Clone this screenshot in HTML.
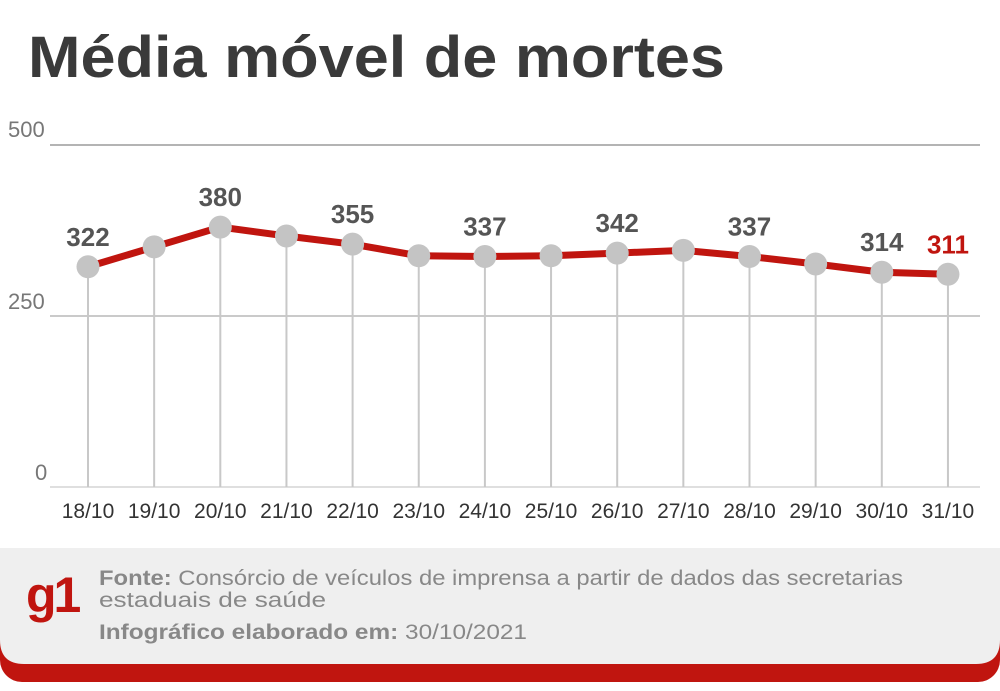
<!DOCTYPE html>
<html><head><meta charset="utf-8"><style>
body{margin:0;width:1000px;height:691px;background:#fff;overflow:hidden;font-family:"Liberation Sans",sans-serif}
</style></head><body>
<svg width="1000" height="691" xmlns="http://www.w3.org/2000/svg" style="position:absolute;left:0;top:0">
<text x="28" y="77" font-size="58" font-weight="bold" fill="#3a3a3a" font-family="Liberation Sans,sans-serif" textLength="697" lengthAdjust="spacingAndGlyphs">Média móvel de mortes</text>
<g font-family="Liberation Sans,sans-serif" font-size="22" fill="#777">
<text x="8" y="137">500</text><text x="8" y="309">250</text><text x="35" y="480">0</text>
</g>
<line x1="50" y1="145" x2="980" y2="145" stroke="#888" stroke-width="1.3"/>
<line x1="50" y1="316" x2="980" y2="316" stroke="#aaa" stroke-width="1.3"/>
<line x1="50" y1="487" x2="980" y2="487" stroke="#ccc" stroke-width="1.3"/>
<g id="c"></g>
<rect x="0" y="548" width="1000" height="134" rx="22" fill="#c0150f"/>
<path d="M0 548 H1000 V640 Q1000 664 976 664 H24 Q0 664 0 640 Z" fill="#efefef"/>
<text x="26" y="612" font-size="50" font-weight="bold" fill="#c0150f" font-family="Liberation Sans,sans-serif" letter-spacing="-3">g1</text>
<g font-family="Liberation Sans,sans-serif" font-size="21" fill="#888">
<text x="99" y="585" textLength="804" lengthAdjust="spacingAndGlyphs"><tspan font-weight="bold">Fonte:</tspan> Consórcio de veículos de imprensa a partir de dados das secretarias</text>
<text x="99" y="607" textLength="227" lengthAdjust="spacingAndGlyphs">estaduais de saúde</text>
<text x="99" y="639" textLength="428" lengthAdjust="spacingAndGlyphs"><tspan font-weight="bold">Infográfico elaborado em:</tspan> 30/10/2021</text>
</g>
</svg>
<script>
var v=[322,351,380,367,355,338,337,338,342,346,337,326,314,311];
var lab=["18/10","19/10","20/10","21/10","22/10","23/10","24/10","25/10","26/10","27/10","28/10","29/10","30/10","31/10"];
var show={0:1,2:1,4:1,6:1,8:1,10:1,12:1,13:1};
var s="",pts=[];
for(var i=0;i<14;i++){var x=88+i*66.15,y=487-v[i]*0.684;pts.push(x+","+y);
s+='<line x1="'+x+'" y1="'+y+'" x2="'+x+'" y2="487" stroke="#c8c8c8" stroke-width="2"/>';
s+='<text x="'+x+'" y="518" text-anchor="middle" font-size="21" fill="#333" font-family="Liberation Sans,sans-serif">'+lab[i]+'</text>';}
s+='<polyline points="'+pts.join(" ")+'" fill="none" stroke="#c0150f" stroke-width="7" stroke-linejoin="round"/>';
for(var i=0;i<14;i++){var x=88+i*66.15,y=487-v[i]*0.684;
s+='<circle cx="'+x+'" cy="'+y+'" r="11.5" fill="#c4c4c4"/>';
if(show[i])s+='<text x="'+x+'" y="'+(y-21)+'" text-anchor="middle" font-size="26" font-weight="bold" fill="'+(i==13?'#c0150f':'#555')+'" font-family="Liberation Sans,sans-serif">'+v[i]+'</text>';}
document.getElementById("c").innerHTML=s;
</script>
</body></html>
